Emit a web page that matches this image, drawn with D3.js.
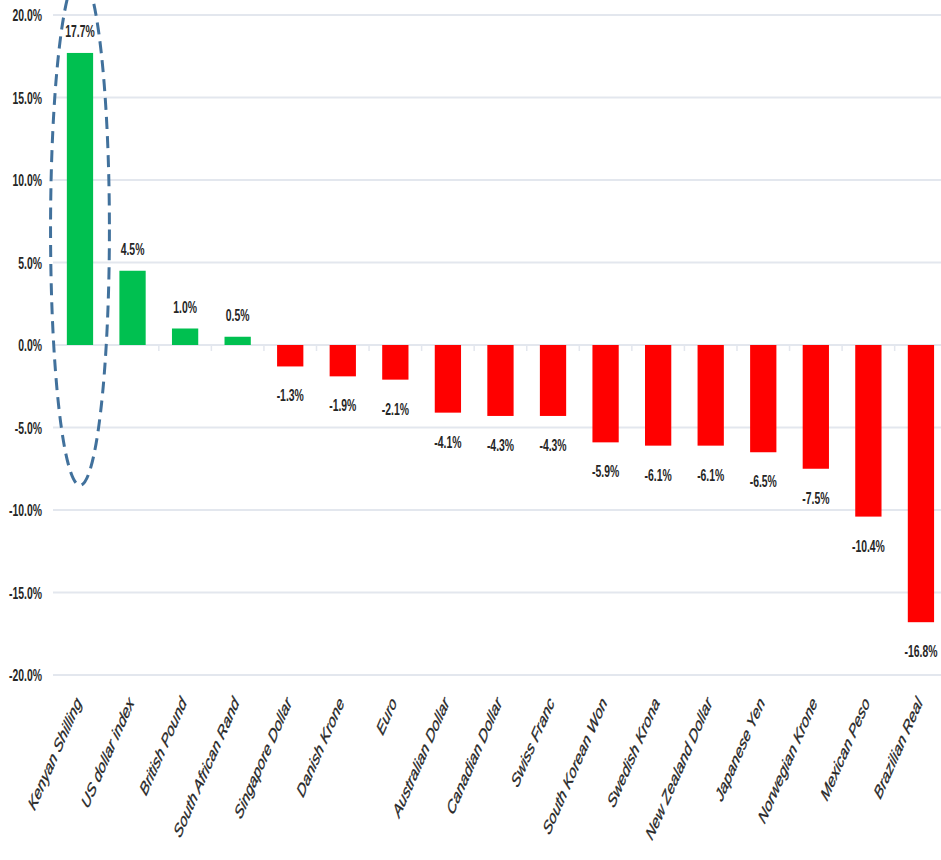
<!DOCTYPE html>
<html>
<head>
<meta charset="utf-8">
<script src="https://cdn.jsdelivr.net/npm/d3@7"></script>
<style>
 body{margin:0;background:#fff;}
 svg{display:block;}
</style>
</head>
<body>
<div id="chart"></div>
<script>
var currencies=["Kenyan Shilling","US dollar index","British Pound","South African Rand","Singapore Dollar","Danish Krone","Euro","Australian Dollar","Canadian Dollar","Swiss Franc","South Korean Won","Swedish Krona","New Zealand Dollar","Japanese Yen","Norwegian Krone","Mexican Peso","Brazilian Real"];
var changes=[17.7,4.5,1.0,0.5,-1.3,-1.9,-2.1,-4.1,-4.3,-4.3,-5.9,-6.1,-6.1,-6.5,-7.5,-10.4,-16.8];
var yTicks=[20,15,10,5,0,-5,-10,-15,-20];
// ellipse annotation around the first bar, in data units
var highlightTop=22.5,highlightBottom=-8.5;

var W=941,H=860;
var SX=0.65; // the picture is squeezed sideways, text too
var x=d3.scaleBand().domain(currencies).range([53.7,53.7+17*52.56]).paddingInner(0.5).paddingOuter(0.25);
var y=d3.scaleLinear().domain([-20,20]).range([675,15]);
var pct=function(d){return d3.format(".1f")(d).replace("\u2212","-")+"%";};

var svg=d3.select("#chart").append("svg").attr("width",W).attr("height",H);

// gridlines
svg.append("g").selectAll("line").data(yTicks).enter().append("line")
 .attr("x1",53).attr("x2",W).attr("y1",function(d){return y(d);}).attr("y2",function(d){return y(d);})
 .attr("stroke","#e3e7ee").attr("stroke-width",2);

// y axis labels
svg.append("g").selectAll("text").data(yTicks).enter().append("text")
 .attr("transform",function(d){return "translate(42,"+(y(d)+6)+") scale("+SX+",1)";})
 .attr("text-anchor","end")
 .attr("font-family","'Liberation Sans',Arial,sans-serif").attr("font-weight","bold").attr("font-size",16).attr("fill","#262626")
 .text(pct);

// category ticks at zero line
var step=x.step();
svg.append("g").selectAll("line").data(currencies).enter().append("line")
 .attr("x1",function(d){return x(d)-x.paddingInner()*step/2;}).attr("x2",function(d){return x(d)-x.paddingInner()*step/2;})
 .attr("y1",y(0)).attr("y2",y(0)+6)
 .attr("stroke","#e3e7ee").attr("stroke-width",1.5);

// bars
svg.append("g").selectAll("rect").data(changes).enter().append("rect")
 .attr("x",function(d,i){return x(currencies[i]);})
 .attr("width",x.bandwidth())
 .attr("y",function(d){return d>=0?y(d):y(0);})
 .attr("height",function(d){return Math.abs(y(d)-y(0));})
 .attr("fill",function(d){return d>=0?"#00c050":"#ff0000";});

// value labels
svg.append("g").selectAll("text").data(changes).enter().append("text")
 .attr("transform",function(d,i){
   var cx=x(currencies[i])+x.bandwidth()/2;
   var ty=d>=0?y(d)-16:y(d)+35;
   return "translate("+cx+","+ty+") scale("+SX+",1)";})
 .attr("text-anchor","middle")
 .attr("font-family","'Liberation Sans',Arial,sans-serif").attr("font-weight","bold").attr("font-size",16).attr("fill","#262626")
 .text(pct);

// category labels
svg.append("g").selectAll("text").data(currencies).enter().append("text")
 .attr("transform",function(d){return "translate("+(x(d)+x.bandwidth()/2+2)+",703) scale("+SX+",1) rotate(-56)";})
 .attr("text-anchor","end")
 .attr("font-family","'Liberation Sans',Arial,sans-serif").attr("font-style","italic").attr("font-size",19).attr("fill","#262626")
 .attr("stroke","#262626").attr("stroke-width",0.4)
 .text(function(d){return d;});

// dashed ellipse
var k=currencies[0];
svg.append("ellipse")
 .attr("cx",x(k)+x.bandwidth()/2)
 .attr("cy",(y(highlightTop)+y(highlightBottom))/2)
 .attr("rx",x.bandwidth()*1.12)
 .attr("ry",(y(highlightBottom)-y(highlightTop))/2)
 .attr("fill","none").attr("stroke","#41719c").attr("stroke-width",3).attr("stroke-dasharray","12,7");
</script>
</body>
</html>
